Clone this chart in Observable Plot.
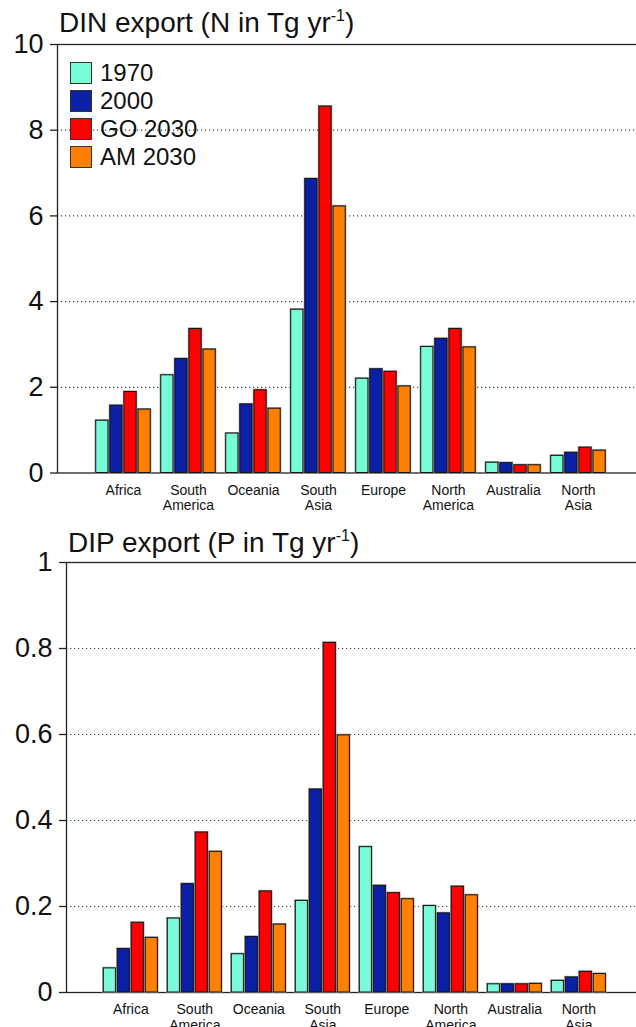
<!DOCTYPE html>
<html>
<head>
<meta charset="utf-8">
<script src="https://cdn.jsdelivr.net/npm/d3@7"></script>
<script src="https://cdn.jsdelivr.net/npm/@observablehq/plot@0.6"></script>
<style>
  html, body { margin: 0; padding: 0; background: #fff; overflow: hidden; }
  #wrap { position: relative; width: 636px; height: 1027px; font-family: "Liberation Sans", Arial, sans-serif; color: #111; }
  .layer { position: absolute; left: 0; }
  .title { position: absolute; font-size: 28px; line-height: 28px; white-space: nowrap; color: #111; }
  .title .sup { font-size: 16px; position: relative; top: -11px; }
  #legend { position: absolute; left: 70px; top: 59px; font-size: 24px; }
  .item { display: flex; align-items: center; height: 28px; }
  .sw { width: 20px; height: 20px; border: 1px solid #333; margin-right: 8px; box-sizing: content-box; }
</style>
</head>
<body>
<div id="wrap"></div>
<script>
const regions = ["Africa", "South America", "Oceania", "South Asia", "Europe", "North America", "Australia", "North Asia"];
const regionLabels = ["Africa", "South\nAmerica", "Oceania", "South\nAsia", "Europe", "North\nAmerica", "Australia", "North\nAsia"];
const scenarios = ["1970", "2000", "GO 2030", "AM 2030"];
const scenarioColors = ["#78fcd8", "#0a21a5", "#ff0000", "#ff7f00"];

// DIN export (Tg N / yr)
const din1970 = [1.22, 2.28, 0.92, 3.81, 2.20, 2.94, 0.24, 0.40];
const din2000 = [1.57, 2.66, 1.60, 6.86, 2.42, 3.13, 0.23, 0.47];
const dinGO   = [1.89, 3.36, 1.93, 8.55, 2.36, 3.36, 0.18, 0.59];
const dinAM   = [1.48, 2.88, 1.50, 6.22, 2.02, 2.93, 0.18, 0.52];

// DIP export (Tg P / yr)
const dip1970 = [0.056, 0.172, 0.089, 0.213, 0.338, 0.201, 0.019, 0.027];
const dip2000 = [0.101, 0.252, 0.129, 0.472, 0.248, 0.184, 0.019, 0.035];
const dipGO   = [0.162, 0.372, 0.235, 0.813, 0.231, 0.246, 0.019, 0.048];
const dipAM   = [0.127, 0.327, 0.158, 0.598, 0.217, 0.226, 0.020, 0.043];

const dinTicks = [0, 2, 4, 6, 8, 10];
const dinTickLabels = ["0", "2", "4", "6", "8", "10"];
const dinGrid = [2, 4, 6, 8];
const dipTicks = [0, 0.2, 0.4, 0.6, 0.8, 1];
const dipTickLabels = ["0", "0.2", "0.4", "0.6", "0.8", "1"];
const dipGrid = [0.2, 0.4, 0.6, 0.8];

function rows(series) {
  return regions.flatMap((r, i) => scenarios.map((s, j) => ({region: r, scenario: s, value: series[j][i]})));
}
const dinData = rows([din1970, din2000, dinGO, dinAM]);
const dipData = rows([dip1970, dip2000, dipGO, dipAM]);

const wrap = document.getElementById("wrap");
const FONT = "'Liberation Sans', Arial, sans-serif";

function chart({top, height, marginLeft, marginTop, marginBottom, domain, ticks, tickLabels, grid, data, fxOpts}) {
  const bg = Plot.plot({
    width: 636, height, marginLeft, marginRight: -3, marginTop, marginBottom,
    style: {fontFamily: FONT, background: "transparent", color: "#111"},
    y: {domain, axis: null},
    marks: [
      Plot.gridY(grid, {stroke: "#444", strokeOpacity: 1, strokeWidth: 1.2, strokeDasharray: "1.2,2.8"}),
      Plot.frame({stroke: "#222", strokeWidth: 1.3}),
      Plot.axisY({ticks, tickSize: 7, tickPadding: 7, fontSize: 27, label: null, stroke: "#222", strokeWidth: 1.3,
        tickFormat: (d) => tickLabels[ticks.indexOf(d)]})
    ]
  });
  const fg = Plot.plot({
    width: 636, height, marginLeft, marginRight: 0, marginTop, marginBottom,
    style: {fontFamily: FONT, background: "transparent", color: "#111"},
    fx: Object.assign({domain: regions, round: false, label: null}, fxOpts),
    x: {domain: scenarios, paddingInner: 0.135, paddingOuter: 0, round: false, axis: null},
    y: {domain, axis: null},
    color: {domain: scenarios, range: scenarioColors},
    marks: [
      Plot.barY(data, {fx: "region", x: "scenario", y: "value", fill: "scenario", stroke: "#9a9a9a", strokeWidth: 2.2}),
      Plot.barY(data, {fx: "region", x: "scenario", y: "value", fill: "scenario", stroke: "#141414", strokeWidth: 1}),
      Plot.axisFx({anchor: "bottom", tickSize: 0, tickPadding: 11, fontSize: 14, lineHeight: 1.1, label: null,
        tickFormat: (d) => regionLabels[regions.indexOf(d)]})
    ]
  });
  for (const el of [bg, fg]) {
    el.classList.add("layer");
    el.style.top = top + "px";
    wrap.appendChild(el);
  }
}

chart({
  top: 0, height: 520, marginLeft: 57, marginTop: 44, marginBottom: 47.5,
  domain: [0, 10], ticks: dinTicks, tickLabels: dinTickLabels, grid: dinGrid, data: dinData,
  fxOpts: {paddingInner: 0.1615, paddingOuter: 0.535, align: 0.557}
});
chart({
  top: 520, height: 507, marginLeft: 66, marginTop: 42, marginBottom: 35,
  domain: [0, 1], ticks: dipTicks, tickLabels: dipTickLabels, grid: dipGrid, data: dipData,
  fxOpts: {paddingInner: 0.156, paddingOuter: 0.531, align: 0.549}
});

// titles
const t1 = document.createElement("div");
t1.className = "title";
t1.style.left = "59px"; t1.style.top = "9px";
t1.innerHTML = 'DIN export (N in Tg yr<span class="sup">-1</span>)';
wrap.appendChild(t1);
const t2 = document.createElement("div");
t2.className = "title";
t2.style.left = "68px"; t2.style.top = "529px";
t2.innerHTML = 'DIP export (P in Tg yr<span class="sup">-1</span>)';
wrap.appendChild(t2);

// legend
const lg = document.createElement("div");
lg.id = "legend";
scenarios.forEach((s, i) => {
  const it = document.createElement("div");
  it.className = "item";
  const sw = document.createElement("div");
  sw.className = "sw";
  sw.style.background = scenarioColors[i];
  const tx = document.createElement("span");
  tx.textContent = s;
  it.appendChild(sw); it.appendChild(tx);
  lg.appendChild(it);
});
wrap.appendChild(lg);
</script>
</body>
</html>
